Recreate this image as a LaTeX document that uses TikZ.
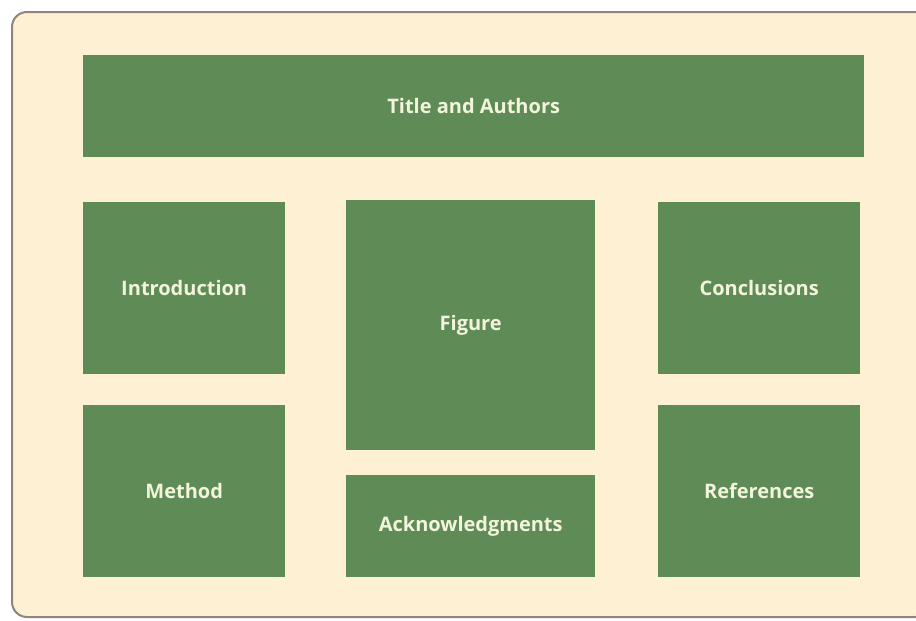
\documentclass[tikz,border=0pt]{standalone}
\usepackage{fontspec}
\setmainfont{Open Sans}
\definecolor{cream}{HTML}{FEF0D2}
\definecolor{leaf}{HTML}{5F8B57}
\definecolor{labeltext}{HTML}{F2F4DC}
\definecolor{rim}{HTML}{8F857D}
\begin{document}
\begin{tikzpicture}[x=1pt, y=-1pt,
    part/.style = {fill=leaf, anchor=north west, inner sep=0pt,
                   font=\fontsize{20}{24}\selectfont\bfseries, text=labeltext}]
\useasboundingbox (0,0) rectangle (916,621);
\fill[white] (0,0) rectangle (916,621);
% panel
\draw[rim, line width=2pt, fill=cream, rounded corners=15pt] (12,12) rectangle (930,617);
% sections
\node[part, minimum width=781pt, minimum height=102pt] (title) at (83,55) {Title and Authors};
\node[part, minimum width=202pt, minimum height=172pt] (intro) at (83,202) {Introduction};
\node[part, minimum width=202pt, minimum height=172pt] (method) at (83,405) {Method};
\node[part, minimum width=249pt, minimum height=250pt] (figure) at (346,200) {Figure};
\node[part, minimum width=249pt, minimum height=102pt] (ack) at (346,475) {Acknowledgments};
\node[part, minimum width=202pt, minimum height=172pt] (concl) at (658,202) {Conclusions};
\node[part, minimum width=202pt, minimum height=172pt] (refs) at (658,405) {References};
\end{tikzpicture}
\end{document}
